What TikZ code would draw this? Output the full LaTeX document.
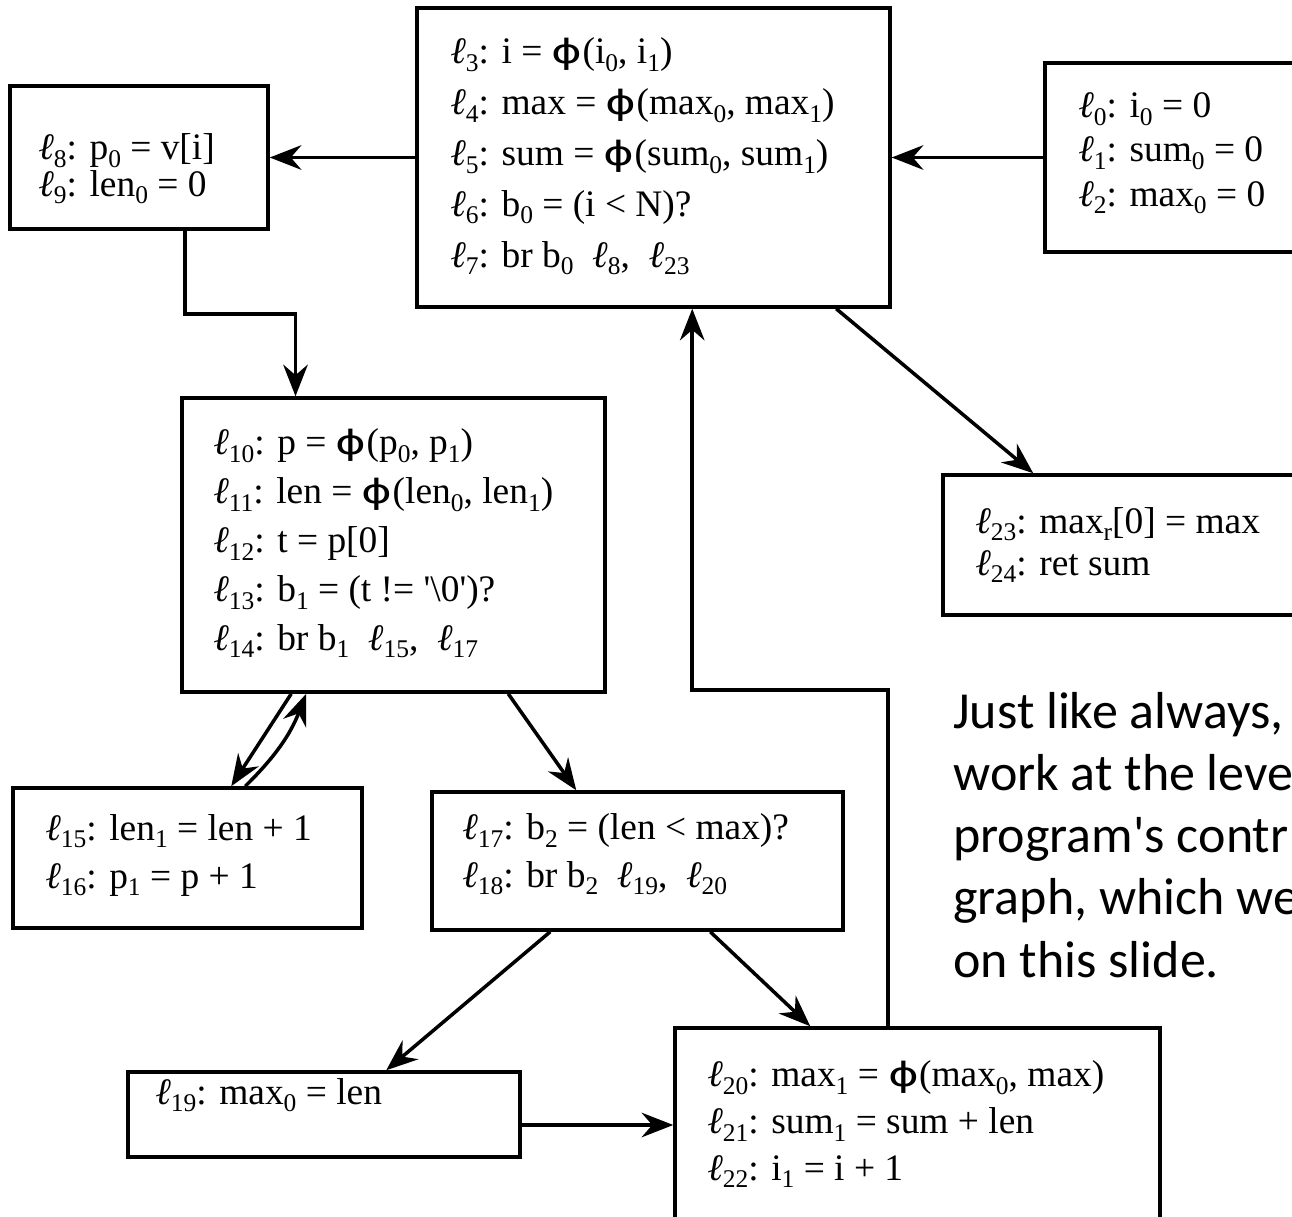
\documentclass[tikz,border=0pt]{standalone}
\usepackage{fontspec}
\setmainfont{Liberation Serif}
\newfontfamily\phifont{DejaVu Sans}
\newfontfamily\notefont{Carlito}
\usetikzlibrary{arrows.meta, calc, fit}

% label, subscript and phi helpers
\newcommand{\lsub}[1]{\raisebox{-4.5pt}{\fontsize{14.5pt}{14.5pt}\selectfont #1}}
\newcommand{\lb}[1]{\textit{ℓ}\lsub{#1}}
\newcommand{\phisym}{\scalebox{1.4}[1]{\phifont\fontsize{19pt}{19pt}\selectfont ϕ}}
\newcommand{\codefont}[1]{\fontsize{21.3pt}{#1}\selectfont}
\newcommand{\sq}{\textquotesingle}

\begin{document}
\begin{tikzpicture}[
  x=0.02cm, y=-0.02cm,
  box/.style={draw, line width=2pt, inner sep=0pt},
  code/.style={anchor=base west, align=left, inner sep=0pt},
  arrow/.style={-{Stealth[length=18pt, width=14pt, inset=6pt]}, line width=2pt},
  note/.style={anchor=base west, align=left, inner sep=0pt,
               font=\notefont\fontsize{29.6pt}{35.3pt}\selectfont},
]
\useasboundingbox (0,0) rectangle (1292,1217);
\clip (0,0) rectangle (1292,1217);

% blocks of the control flow graph
\node[box, fit={(1045,63) (1340,252)}]  (b0)  {};
\node[box, fit={(417,8) (890,307)}]     (b3)  {};
\node[box, fit={(10,86) (268,229)}]     (b8)  {};
\node[box, fit={(182,398) (605,692)}]   (b10) {};
\node[box, fit={(943,475) (1340,615)}]  (b23) {};
\node[box, fit={(13,788) (362,928)}]    (b15) {};
\node[box, fit={(432,792) (843,930)}]   (b17) {};
\node[box, fit={(128,1072) (520,1157)}] (b19) {};
\node[box, fit={(675,1028) (1160,1222)}] (b20) {};

% instructions (anchored at the baseline of the last line)
\node[code, font={\codefont{25.3pt}}] (t0) at (1078,206)
  {\lb{0}: i\lsub{0} = 0\\ \lb{1}: sum\lsub{0} = 0\\ \lb{2}: max\lsub{0} = 0};
\node[code, font={\codefont{29pt}}] (t3) at (450,267)
  {\lb{3}: i = \phisym(i\lsub{0}, i\lsub{1})\\
   \lb{4}: max = \phisym(max\lsub{0}, max\lsub{1})\\
   \lb{5}: sum = \phisym(sum\lsub{0}, sum\lsub{1})\\
   \lb{6}: b\lsub{0} = (i < N)?\\
   \lb{7}: br b\lsub{0}\ \ \lb{8},\ \ \lb{23}};
\node[code, font={\codefont{20.5pt}}] (t8) at (38,196)
  {\lb{8}: p\lsub{0} = v[i]\\ \lb{9}: len\lsub{0} = 0};
\node[code, font={\codefont{27.8pt}}] (t10) at (213,650)
  {\lb{10}: p = \phisym(p\lsub{0}, p\lsub{1})\\
   \lb{11}: len = \phisym(len\lsub{0}, len\lsub{1})\\
   \lb{12}: t = p[0]\\
   \lb{13}: b\lsub{1} = (t != \sq\textbackslash0\sq)?\\
   \lb{14}: br b\lsub{1}\ \ \lb{15},\ \ \lb{17}};
\node[code, font={\codefont{23.9pt}}] (t23) at (975,575)
  {\lb{23}: max\lsub{r}[0] = max\\ \lb{24}: ret sum};
\node[code, font={\codefont{27.3pt}}] (t15) at (45,888)
  {\lb{15}: len\lsub{1} = len + 1\\ \lb{16}: p\lsub{1} = p + 1};
\node[code, font={\codefont{26.8pt}}] (t17) at (462,887)
  {\lb{17}: b\lsub{2} = (len < max)?\\ \lb{18}: br b\lsub{2}\ \ \lb{19},\ \ \lb{20}};
\node[code, font={\codefont{26pt}}] (t19) at (155,1104)
  {\lb{19}: max\lsub{0} = len};
\node[code, font={\codefont{26.5pt}}] (t20) at (707,1180)
  {\lb{20}: max\lsub{1} = \phisym(max\lsub{0}, max)\\
   \lb{21}: sum\lsub{1} = sum + len\\
   \lb{22}: i\lsub{1} = i + 1};

% edges
\draw[arrow] (b3.west) -- (b8.east);
\draw[arrow] (b0.west) -- (b3.east);
\draw[arrow] ($(b8.south)+(46,0)$) -- ++(0,83) -| ($(b10.north)+(-98,0)$);
\draw[arrow] ($(b3.south west)+(421,0)$) -- ($(b23.north west)+(92,0)$);
\draw[arrow] ($(b10.south west)+(111,0)$) -- ($(b15.north west)+(220,0)$);
\draw[arrow] ($(b15.north west)+(234,0)$) to[bend right=12] ($(b10.south west)+(126,0)$);
\draw[arrow] ($(b10.south west)+(328,0)$) -- ($(b17.north west)+(146,0)$);
\draw[arrow] ($(b17.south west)+(120,0)$) -- ($(b19.north west)+(260,0)$);
\draw[arrow] ($(b17.south west)+(280,0)$) -- ($(b20.north west)+(137,0)$);
\draw[arrow] (b19.east |- b20.west) -- (b20.west);
\draw[arrow] ($(b20.north west)+(215,0)$) -- ++(0,-336) -| ($(b3.south west)+(277,0)$);

% side note
\node[note] (remark) at (953,977)
  {Just like always,\\ work at the leve\\ program\sq s contr\\ graph, which we\\ on this slide.};
\end{tikzpicture}
\end{document}
